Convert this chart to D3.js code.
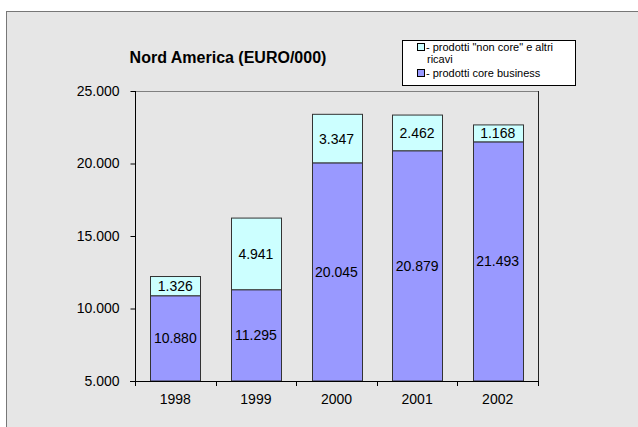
<!DOCTYPE html>
<html>
<head>
<meta charset="utf-8">
<script src="https://cdn.jsdelivr.net/npm/d3@7"></script>
<style>
  body { margin: 0; background: #fff; }
  svg text { font-family: "Liberation Sans", Arial, sans-serif; fill: #000; }
</style>
</head>
<body>
<svg id="chart" width="638" height="427"></svg>
<script>
var years = ['1998', '1999', '2000', '2001', '2002'];
var coreValues = [10880, 11295, 20045, 20879, 21493];
var nonCoreValues = [1326, 4941, 3347, 2462, 1168];
var yTicks = [5000, 10000, 15000, 20000, 25000];
var chartTitle = 'Nord America (EURO/000)';
var legendLabels = [['- prodotti "non core" e altri', 'ricavi'], ['- prodotti core business']];

var svg = d3.select('#chart');
var plot = { left: 135, right: 538, top: 91, bottom: 381 };
var font = '"Liberation Sans", Arial, sans-serif';

var it = d3.formatLocale({ decimal: ',', thousands: '.', grouping: [3], currency: ['', ''] });
var fmt = it.format(',d');

// outer chart area
svg.append('rect')
  .attr('x', 6.5).attr('y', 11.5)
  .attr('width', 640).attr('height', 430)
  .attr('fill', '#e6e6e6')
  .attr('stroke', '#777');

var xScale = d3.scaleBand()
  .domain(years)
  .range([plot.left, plot.right])
  .paddingInner(0.38)
  .paddingOuter(0.19);

var yScale = d3.scaleLinear()
  .domain([5000, 25000])
  .range([plot.bottom, plot.top]);

// plot area border
svg.append('line')
  .attr('x1', plot.left).attr('x2', plot.right)
  .attr('y1', plot.top + 0.5).attr('y2', plot.top + 0.5)
  .attr('stroke', '#808080');
svg.append('line')
  .attr('x1', plot.right + 0.5).attr('x2', plot.right + 0.5)
  .attr('y1', plot.top).attr('y2', plot.bottom)
  .attr('stroke', '#222');

var stacked = years.map((y, i) => ({
  year: y,
  core: coreValues[i],
  nonCore: nonCoreValues[i]
}));

var barG = svg.append('g');

// core business segment
barG.selectAll('.core')
  .data(stacked)
  .enter()
  .append('rect')
    .classed('core', true)
    .attr('x', d => Math.round(xScale(d.year)) + 0.5)
    .attr('y', d => yScale(d.core))
    .attr('width', Math.round(xScale.bandwidth()))
    .attr('height', d => yScale(5000) - yScale(d.core))
    .attr('fill', '#9999ff')
    .attr('stroke', '#333');

// non core segment
barG.selectAll('.noncore')
  .data(stacked)
  .enter()
  .append('rect')
    .classed('noncore', true)
    .attr('x', d => Math.round(xScale(d.year)) + 0.5)
    .attr('y', d => yScale(d.core + d.nonCore))
    .attr('width', Math.round(xScale.bandwidth()))
    .attr('height', d => yScale(d.core) - yScale(d.core + d.nonCore))
    .attr('fill', '#ccffff')
    .attr('stroke', '#333');

// value labels
barG.selectAll('.core-label')
  .data(stacked)
  .enter()
  .append('text')
    .attr('x', d => xScale(d.year) + xScale.bandwidth() / 2)
    .attr('y', d => (yScale(5000) + yScale(d.core)) / 2 + 5)
    .attr('text-anchor', 'middle')
    .style('font-size', '14px')
    .text(d => fmt(d.core));

barG.selectAll('.noncore-label')
  .data(stacked)
  .enter()
  .append('text')
    .attr('x', d => xScale(d.year) + xScale.bandwidth() / 2)
    .attr('y', d => (yScale(d.core) + yScale(d.core + d.nonCore)) / 2 + 5)
    .attr('text-anchor', 'middle')
    .style('font-size', '14px')
    .text(d => fmt(d.nonCore));

// axes
var yAxis = d3.axisLeft(yScale)
  .tickValues(yTicks)
  .tickSize(5)
  .tickPadding(11)
  .tickFormat(fmt);

svg.append('g')
  .attr('transform', `translate(${plot.left + 0.5}, 0)`)
  .call(yAxis)
  .attr('font-family', font)
  .call(g => g.select('.domain').attr('d', `M0,${plot.top}V${plot.bottom}`).attr('stroke', '#000'))
  .call(g => g.selectAll('text').style('font-size', '14px'));

var xAxis = d3.axisBottom(xScale).tickSize(0).tickPadding(13);
svg.append('g')
  .attr('transform', `translate(0, ${plot.bottom + 0.5})`)
  .call(xAxis)
  .attr('font-family', font)
  .call(g => g.select('.domain').attr('d', `M${plot.left - 5},0H${plot.right + 1}`).attr('stroke', '#000'))
  .call(g => g.selectAll('text').style('font-size', '14px'));

// category separator ticks
var sepTicks = d3.range(years.length + 1).map(i => plot.left + i * (plot.right - plot.left) / years.length);
svg.append('g').selectAll('line')
  .data(sepTicks)
  .enter()
  .append('line')
    .attr('x1', d => Math.round(d) + 0.5).attr('x2', d => Math.round(d) + 0.5)
    .attr('y1', plot.bottom).attr('y2', plot.bottom + 5)
    .attr('stroke', '#000');

// title
svg.append('text')
  .attr('x', 228)
  .attr('y', 63)
  .attr('text-anchor', 'middle')
  .style('font-size', '16px')
  .style('font-weight', 'bold')
  .text(chartTitle);

// legend
var legend = svg.append('g').attr('transform', 'translate(402, 40)');
legend.append('rect')
  .attr('x', 0.5).attr('y', 0.5)
  .attr('width', 173).attr('height', 45)
  .attr('fill', '#fff')
  .attr('stroke', '#000');

var legendColors = ['#ccffff', '#9999ff'];
var legendRows = [11, 37];
legendLabels.forEach((lines, i) => {
  legend.append('rect')
    .attr('x', 15.5).attr('y', legendRows[i] - 7.5)
    .attr('width', 7).attr('height', 7)
    .attr('fill', legendColors[i])
    .attr('stroke', '#000');
  lines.forEach((t, j) => {
    legend.append('text')
      .attr('x', j === 0 ? 24 : 25)
      .attr('y', legendRows[i] + j * 12)
      .style('font-size', '11px')
      .text(t);
  });
});
</script>
</body>
</html>
